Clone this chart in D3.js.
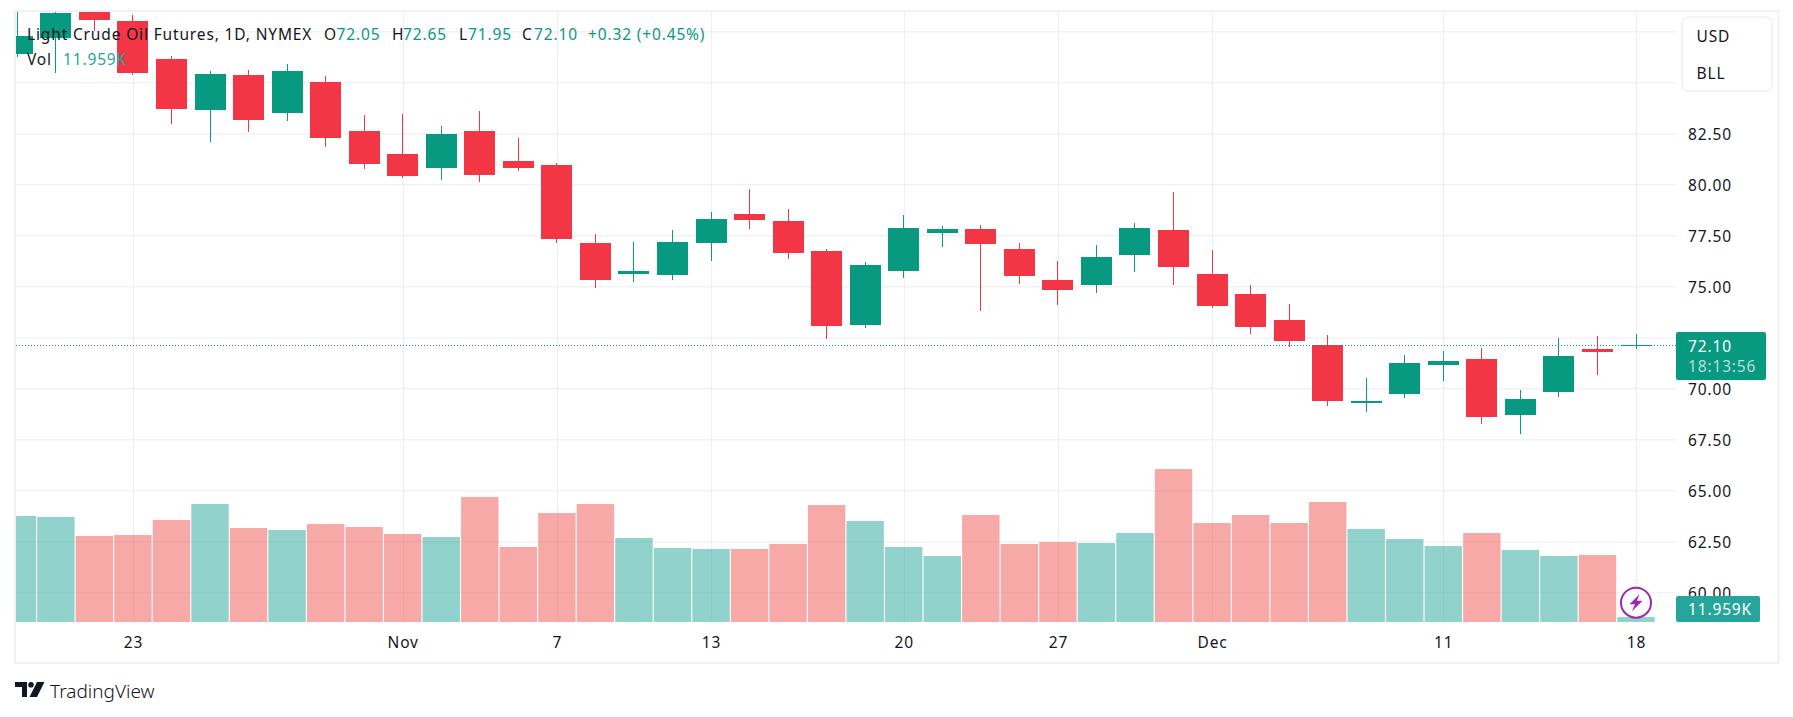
<!DOCTYPE html>
<html>
<head>
<meta charset="utf-8">
<style>
  html, body { margin: 0; padding: 0; background: #fff; }
  text { font-family: "Noto Sans", sans-serif; font-size: 15.5px; letter-spacing: 0.85px; fill: #131722; }
  .domain { display: none; }
</style>
<script src="https://cdn.jsdelivr.net/npm/d3@7"></script>
</head>
<body>
<svg id="mainsvg" width="1793" height="717"></svg>
<script>
// daily candles (first three run past the top of the pane)
const opens = [86.41,87.17,88.70,88.01,86.14,83.66,85.36,83.51,85.02,82.61,81.49,80.82,82.61,81.14,80.95,77.12,75.62,75.57,77.14,78.55,78.20,76.73,73.12,75.77,77.63,77.81,76.83,75.31,75.08,76.55,77.76,75.60,74.62,73.35,72.12,69.28,69.74,71.14,71.44,68.71,69.84,71.93,72.05]
const highs = [89.00,88.60,89.00,88.30,86.29,85.56,85.60,85.90,85.31,83.40,83.45,82.86,83.59,82.27,81.05,77.57,77.17,77.76,78.64,79.77,78.79,76.83,76.19,78.50,77.96,78.01,77.12,76.24,77.03,78.10,79.62,76.78,75.07,74.13,72.61,70.51,71.63,71.83,71.98,69.92,72.47,72.57,72.65]
const lows = [86.26,85.47,87.53,85.38,82.97,82.09,82.58,83.12,81.85,80.77,80.33,80.23,80.13,80.67,77.14,74.93,75.23,75.33,76.26,77.81,76.36,72.43,72.97,75.42,76.94,73.81,75.13,74.10,74.69,75.72,75.08,73.95,72.68,72.04,69.13,68.84,69.54,70.38,68.27,67.78,69.59,70.67,71.95]
const closes = [87.27,88.40,88.06,85.47,83.71,85.41,83.17,85.56,82.29,81.01,80.42,82.47,80.47,80.82,77.34,75.33,75.75,77.17,78.30,78.27,76.65,73.07,76.05,77.86,77.81,77.09,75.52,74.84,76.44,77.86,75.96,74.05,73.02,72.34,69.38,69.38,71.24,71.34,68.61,69.48,71.58,71.78,72.10]
const volumes = [253.4,251.1,205.6,208.0,243.9,282.1,224.8,220.0,234.3,227.1,210.4,203.2,298.9,179.3,260.6,282.1,200.8,176.9,174.5,174.5,186.5,279.7,241.5,179.3,157.8,255.8,186.5,191.3,188.9,212.8,365.8,236.7,255.8,236.7,286.9,222.4,198.5,181.7,212.8,172.2,157.8,160.2,11.959]

const priceTicks = [87.5,85,82.5,80,77.5,75,72.5,70,67.5,65,62.5,60]
const priceLabels = [82.5,80,77.5,75,72.5,70,67.5,65,62.5,60]
const timeTickBars = [3,10,14,18,23,27,31,37,42]
const timeTickNames = ["23","Nov","7","13","20","27","Dec","11","18"]

const lastPrice = 72.10
const title = "Light Crude Oil Futures, 1D, NYMEX"
const ohlcLetters = ["O","H","L","C"]
const ohlcValues = ["72.05","72.65","71.95","72.10"]
const changeText = "+0.32 (+0.45%)"
const volText = "11.959K"
const countdown = "18:13:56"
const units = ["USD","BLL"]

const UP = "#089981", DOWN = "#F23645", INK = "#131722"
const PANE = {left: 16, top: 12, right: 1676, bottom: 622}

const svg = d3.select("#mainsvg")
const bars = d3.range(opens.length)

const x = d3.scaleLinear().domain([0, 42]).range([17.3, 1636])
const y = d3.scaleLinear().domain([82.5, 60]).range([133.3, 592.3])
const yVol = d3.scaleLinear().domain([0, 478.2]).range([622, 422])

function renderGrid () {
    let grid = svg.append("g").attr("id", "grid")

    grid.append("g")
    .attr("transform", `translate(${PANE.left}, 0)`)
    .call(d3.axisRight(y).tickValues(priceTicks).tickSize(PANE.right - PANE.left).tickFormat(""))
    .call(g => g.selectAll("line").attr("stroke", "#f2f2f5").attr("stroke-width", 1.5))

    grid.append("g")
    .attr("transform", `translate(0, ${PANE.top})`)
    .call(d3.axisBottom(x).tickValues(timeTickBars).tickSize(PANE.bottom - PANE.top).tickFormat(""))
    .call(g => g.selectAll("line").attr("stroke", "#efeff1").attr("stroke-width", 1).attr("shape-rendering", "crispEdges"))
}

function renderVolume (group) {
    group.selectAll("rect.vol")
    .data(bars)
    .enter()
    .append("rect")
    .attr("class", "vol")
    .attr("x", i => x(i) - 18.7)
    .attr("width", 37.4)
    .attr("y", i => yVol(volumes[i]))
    .attr("height", i => yVol(0) - yVol(volumes[i]))
    .attr("fill", i => closes[i] >= opens[i] ? "rgba(38,166,154,0.5)" : "rgba(239,83,80,0.5)")
}

function renderCandles (group) {
    let colour = i => closes[i] >= opens[i] ? UP : DOWN

    group.selectAll("line.wick")
    .data(bars)
    .enter()
    .append("line")
    .attr("class", "wick")
    .attr("shape-rendering", "crispEdges")
    .attr("x1", i => Math.floor(x(i)) + 0.5)
    .attr("x2", i => Math.floor(x(i)) + 0.5)
    .attr("y1", i => y(highs[i]))
    .attr("y2", i => y(lows[i]))
    .attr("stroke", colour)

    group.selectAll("rect.body")
    .data(bars)
    .enter()
    .append("rect")
    .attr("class", "body")
    .attr("shape-rendering", "crispEdges")
    .attr("x", i => Math.floor(x(i)) - 15)
    .attr("width", 31)
    .attr("y", i => y(Math.max(opens[i], closes[i])))
    .attr("height", i => Math.abs(y(opens[i]) - y(closes[i])))
    .attr("fill", colour)
}

function renderAxes () {
    let priceAxis = svg.append("g")
    .attr("transform", `translate(${PANE.right}, 0)`)
    .call(d3.axisRight(y).tickValues(priceLabels).tickSize(0).tickPadding(12).tickFormat(d3.format(".2f")))
    priceAxis.selectAll("text").style("font-size", "15.5px").attr("dy", "0.4em")

    let timeAxis = svg.append("g")
    .attr("transform", `translate(0, ${PANE.bottom})`)
    .call(d3.axisBottom(x).tickValues(timeTickBars).tickSize(0).tickPadding(15)
        .tickFormat((d, i) => timeTickNames[i]))
    timeAxis.selectAll("text").style("font-size", "15.5px")
}

function renderLegend () {
    let legend = svg.append("g").attr("id", "legend")
    let letterX = [324, 392, 459, 522]
    let valueX = [336.5, 403, 468, 534]

    legend.append("text").attr("x", 27).attr("y", 39.5).text(title)
    ohlcLetters.forEach((letter, k) => {
        legend.append("text").attr("x", letterX[k]).attr("y", 39.5).text(letter)
        legend.append("text").attr("x", valueX[k]).attr("y", 39.5)
        .style("fill", UP).text(ohlcValues[k])
    })
    legend.append("text").attr("x", 588).attr("y", 39.5).style("fill", UP).text(changeText)

    legend.append("text").attr("x", 27).attr("y", 65).text("Vol")
    legend.append("text").attr("x", 63).attr("y", 65).style("fill", "#26a69a").text(volText)
}

function renderTags () {
    // dotted last price line, kept inside the pane
    svg.append("line")
    .attr("x1", PANE.left).attr("x2", PANE.right)
    .attr("y1", y(lastPrice)).attr("y2", y(lastPrice))
    .attr("stroke", UP).attr("stroke-dasharray", "1 2")

    let tags = svg.append("g").attr("id", "tags")

    tags.append("rect")
    .attr("x", PANE.right).attr("y", y(lastPrice) - 13.5)
    .attr("width", 90).attr("height", 48).attr("rx", 2).attr("fill", UP)
    tags.append("text").attr("x", 1688).attr("y", y(lastPrice) + 7)
    .style("fill", "#fff").text(d3.format(".2f")(lastPrice))
    tags.append("text").attr("x", 1688).attr("y", y(lastPrice) + 27)
    .style("fill", "rgba(255,255,255,0.7)").text(countdown)

    tags.append("rect")
    .attr("x", PANE.right).attr("y", yVol(volumes[42]) - 21)
    .attr("width", 84).attr("height", 26).attr("rx", 2).attr("fill", "#26a69a")
    tags.append("text").attr("x", 1688).attr("y", yVol(volumes[42]) - 1.5)
    .style("fill", "#fff").text(volText)
}

function renderExtras () {
    // pane border
    svg.append("rect")
    .attr("x", 15).attr("y", 11).attr("width", 1763.5).attr("height", 652)
    .attr("fill", "none").attr("stroke", "#f0f0f5").attr("stroke-width", 2)

    // currency / unit box
    svg.append("rect")
    .attr("x", 1682).attr("y", 17).attr("width", 90).attr("height", 74).attr("rx", 6)
    .attr("fill", "#fff").attr("stroke", "#f0f0f5").attr("stroke-width", 1.5)
    svg.selectAll("text.unit")
    .data(units)
    .enter()
    .append("text")
    .attr("class", "unit")
    .attr("x", 1696.5)
    .attr("y", (d, k) => 41.5 + k * 37)
    .text(d => d)

    // lightning badge over the last bar
    let badge = svg.append("g").attr("transform", `translate(${x(42)}, 602.7)`)
    badge.append("circle").attr("r", 15).attr("fill", "#fff").attr("stroke", "#9c27b0").attr("stroke-width", 2)
    badge.append("path").attr("d", "M3.5 -8.5 L-6.5 1.5 L-1 1.5 L-4 8.5 L6.5 -2 L1 -2 Z").attr("fill", "#9c27b0")

    // logo
    let logo = svg.append("g").attr("id", "logo").attr("fill", INK)
    logo.append("path").attr("d", "M15 682 H27 V697 H22 V687 H15 Z")
    logo.append("circle").attr("cx", 31).attr("cy", 684.8).attr("r", 2.8)
    logo.append("path").attr("d", "M37 682 H44.5 L37 697 H29.5 Z")
    logo.append("text").attr("x", 50).attr("y", 697.5)
    .style("font-size", "19px").style("font-weight", 300).style("letter-spacing", "0").text("TradingView")
}

function renderMainFig () {
    renderGrid()

    svg.append("clipPath").attr("id", "pane-clip")
    .append("rect")
    .attr("x", PANE.left).attr("y", PANE.top)
    .attr("width", PANE.right - PANE.left).attr("height", PANE.bottom - PANE.top)

    let plot = svg.append("g").attr("clip-path", "url(#pane-clip)")
    renderVolume(plot)
    renderCandles(plot)

    renderAxes()
    renderTags()
    renderLegend()
    renderExtras()
}

renderMainFig()
</script>
</body>
</html>
